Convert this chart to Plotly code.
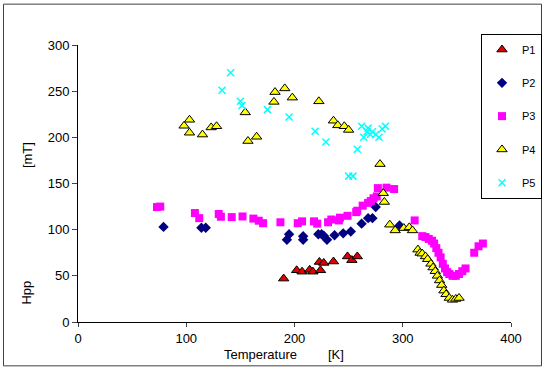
import plotly.graph_objects as go

# ---- data ----
p1_T = [190, 202, 207, 214, 217, 223, 224, 227, 236, 249, 253, 258]
p1_H = [47, 56, 54.5, 56.5, 54.5, 65, 56, 64, 65.5, 71, 67, 71]

p2_T = [79, 114, 118, 193, 195, 208, 208, 222, 225, 227, 230, 237, 245, 252, 262, 268, 272, 275, 297]
p2_H = [103, 102, 102, 89, 95, 89, 93, 95, 95, 93.5, 89, 94, 96, 98, 106.5, 112.5, 112.5, 124.5, 104.5]

p3_T = [73, 76, 108, 112, 130, 132, 142, 152, 162, 167, 171, 187, 203, 207, 218, 221, 231, 234,
        241, 242, 249, 257, 258, 263, 268, 270.5, 273, 276, 277, 285, 292, 311,
        318, 321, 324, 327, 329, 331, 333, 335, 337, 339, 341, 343, 346, 349, 352, 355, 358, 366, 370, 374]
p3_H = [124.5, 125, 118, 112.5, 117, 114, 113.6, 114.3, 112, 109.7, 107, 108, 107, 109, 109, 106.5, 108, 111,
        110, 113, 115, 119, 120.5, 126, 129, 131, 134, 136, 145, 145.5, 144, 110,
        93, 92, 90, 88, 85, 80, 75, 70, 63, 58, 54, 52, 50, 50, 52, 55, 58, 75, 82, 85]

p4_T = [98, 103, 103, 115, 123, 128, 154.5, 157, 165, 181, 182, 191, 198, 222.5,
        236, 240, 246, 250, 279, 282, 283, 288, 293, 301, 306, 309, 314, 316,
        318, 321, 323, 326, 328, 330, 332, 334, 336, 338, 340, 343, 346, 349, 352]
p4_H = [212.5, 219, 205, 203, 210.7, 212, 227, 196, 200.6, 238.4, 249, 253, 243, 239,
        218, 213, 212, 208, 171, 139.5, 130, 105.4, 99.2, 101.7, 102.5, 99.2, 78.4, 74.8,
        74, 71, 68, 63, 59, 55, 50, 45, 40, 34, 30, 26, 24, 25, 26]

p5_T = [133, 141, 150, 151.5, 175, 195, 219, 229, 250, 254, 258,
        262, 264, 267, 268, 270, 272, 275, 278, 281, 284]
p5_H = [251, 270, 239, 234.5, 230, 222, 206.5, 195, 158, 158, 187,
        212, 200, 206, 210, 203, 206, 203, 200, 209, 212]

x_ticks = [0, 100, 200, 300, 400]
y_ticks = [0, 50, 100, 150, 200, 250, 300]

W, H = 550, 369
L, R, T, B = 78, 39, 44.5, 46.5

fig = go.Figure()
fig.add_trace(go.Scatter(x=p1_T, y=p1_H, mode="markers", name="P1", legendgroup="1",
                         marker=dict(symbol="triangle-up", size=9, color="#E00000",
                                     line=dict(color="black", width=1))))
fig.add_trace(go.Scatter(x=p2_T, y=p2_H, mode="markers", name="P2", legendgroup="2",
                         marker=dict(symbol="diamond", size=8, color="#000080",
                                     line=dict(width=0))))
fig.add_trace(go.Scatter(x=p3_T, y=p3_H, mode="markers", name="P3", legendgroup="3",
                         marker=dict(symbol="square", size=8, color="#FF00FF",
                                     line=dict(width=0))))
fig.add_trace(go.Scatter(x=p4_T, y=p4_H, mode="markers", name="P4", legendgroup="4",
                         marker=dict(symbol="triangle-up", size=9, color="#FFFF00",
                                     line=dict(color="black", width=1))))
fig.add_trace(go.Scatter(x=p5_T, y=p5_H, mode="markers", name="P5", legendgroup="5",
                         marker=dict(symbol="x-thin", size=7, color="#00FFFF",
                                     line=dict(color="#00FFFF", width=1.5))))

pw, ph = W - L - R, H - T - B
def px(xp):
    return (xp - L) / pw
def py(yp):
    return (H - B - yp) / ph

axis_font = dict(family="Liberation Sans, Arial, sans-serif", size=13, color="black")
fig.update_layout(
    width=W, height=H,
    margin=dict(l=L, r=R, t=T, b=B, autoexpand=False),
    paper_bgcolor="white", plot_bgcolor="white",
    font=axis_font,
    xaxis=dict(range=[0, 400], tickvals=x_ticks, ticks="outside", ticklen=4,
               showline=True, linecolor="black", linewidth=1, showgrid=False,
               zeroline=False, tickfont=axis_font, fixedrange=True),
    yaxis=dict(range=[0, 300], tickvals=y_ticks, ticks="outside", ticklen=5,
               showline=True, linecolor="black", linewidth=1, showgrid=False,
               zeroline=False, tickfont=axis_font, fixedrange=True),
    showlegend=True,
    legend=dict(x=px(481), y=py(33.5), xanchor="left", yanchor="top",
                bordercolor="black", borderwidth=1, bgcolor="white",
                traceorder="grouped", tracegroupgap=14.3,
                font=dict(family="Liberation Sans, Arial, sans-serif", size=11)),
    shapes=[dict(type="rect", xref="paper", yref="paper",
                 x0=px(3.5), x1=px(541.5), y0=py(366.5), y1=py(3.5),
                 line=dict(color="#404040", width=1), fillcolor="rgba(0,0,0,0)", layer="below")],
    annotations=[
        dict(text="Temperature", xref="paper", yref="paper", x=px(260), y=py(355),
             showarrow=False, font=axis_font, xanchor="center", yanchor="middle"),
        dict(text="[K]", xref="paper", yref="paper", x=px(336), y=py(355),
             showarrow=False, font=axis_font, xanchor="center", yanchor="middle"),
        dict(text="Hpp", xref="paper", yref="paper", x=px(27), y=py(293), textangle=-90,
             showarrow=False, font=axis_font, xanchor="center", yanchor="middle"),
        dict(text="[mT]", xref="paper", yref="paper", x=px(27), y=py(155), textangle=-90,
             showarrow=False, font=axis_font, xanchor="center", yanchor="middle"),
    ],
)

fig.write_html("out.html", config={"displayModeBar": False},
               post_script="document.body.style.margin='0';document.body.style.overflow='hidden';")
